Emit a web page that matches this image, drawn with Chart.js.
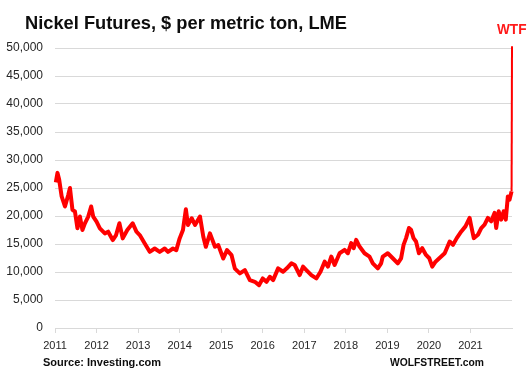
<!DOCTYPE html>
<html>
<head>
<meta charset="utf-8">
<script src="https://cdn.jsdelivr.net/npm/chart.js@4.4.1/dist/chart.umd.min.js"></script>
<style>
html,body{margin:0;padding:0;background:#fff;}
#wrap{position:relative;width:527px;height:379px;}
</style>
</head>
<body>
<div id="wrap"><canvas id="c" width="527" height="379"></canvas></div>
<script>
// ---- data ----
const years = [2011,2012,2013,2014,2015,2016,2017,2018,2019,2020,2021];
const yTicks = [0,5000,10000,15000,20000,25000,30000,35000,40000,45000,50000];
const dates = [
2011.02,2011.06,2011.10,2011.16,2011.24,2011.32,2011.36,2011.42,2011.48,2011.54,2011.60,2011.66,2011.72,2011.80,2011.87,2011.92,
2012.00,2012.08,2012.20,2012.28,2012.39,2012.47,2012.55,2012.63,2012.74,2012.87,2012.96,
2013.04,2013.16,2013.28,2013.40,2013.52,2013.64,2013.72,2013.84,2013.92,
2014.00,2014.08,2014.15,2014.20,2014.29,2014.37,2014.49,2014.57,2014.63,2014.73,2014.85,2014.93,
2015.05,2015.14,2015.25,2015.33,2015.45,2015.57,2015.69,2015.81,2015.91,
2016.00,2016.09,2016.17,2016.25,2016.37,2016.49,2016.58,2016.69,2016.77,2016.89,2016.97,
2017.05,2017.17,2017.29,2017.39,2017.49,2017.57,2017.65,2017.73,2017.85,2017.97,
2018.05,2018.13,2018.19,2018.25,2018.33,2018.45,2018.57,2018.65,2018.77,2018.85,2018.89,
2019.01,2019.13,2019.25,2019.33,2019.39,2019.45,2019.52,2019.57,2019.63,2019.69,2019.76,2019.84,2019.93,
2020.01,2020.08,2020.16,2020.25,2020.38,2020.50,2020.58,2020.67,2020.78,2020.88,2020.98,
2021.02,2021.08,2021.18,2021.26,2021.34,2021.42,2021.50,2021.58,2021.62,2021.68,2021.74,2021.80,2021.85,2021.90,2021.94,2021.99,
2022.00
];
const prices = [
26000,27700,26500,23500,21700,23800,25000,21100,20800,17800,19900,17500,18700,19900,21700,19900,
19000,17800,16900,17200,15700,16600,18700,16000,17500,18700,17200,
16600,15100,13600,14200,13600,14200,13600,14200,13900,
16000,17500,21200,18400,19600,18400,19900,16300,14500,16900,14500,14800,
12400,13900,13000,10600,9750,10350,8550,8250,7650,
8850,8250,9150,8550,10650,10050,10650,11550,11250,9450,10950,
10350,9450,8850,10050,11850,10950,12750,11250,13350,13950,
13350,15150,14250,15750,14550,13350,12750,11550,10650,11550,12750,
13350,12450,11550,12450,14850,16050,17850,17550,16050,15450,13350,14250,13050,
12450,10950,11850,12450,13350,15450,14850,16050,17250,18150,19650,
18150,16050,16650,17850,18450,19650,19050,20550,17850,20850,19350,20850,19350,23500,22900,24400,
50300
];
const titleText = "Nickel Futures, $ per metric ton, LME";
const sourceText = "Source: Investing.com";
const brandText = "WOLFSTREET.com";
const noteText = "WTF";

// ---- texts drawn on canvas ----
function fitText(ctx, text, x, y, font, color, targetW){
  ctx.save();
  ctx.font = font;
  ctx.fillStyle = color;
  ctx.textBaseline = 'alphabetic';
  ctx.textAlign = 'left';
  const w = ctx.measureText(text).width;
  const s = targetW ? targetW / w : 1;
  ctx.translate(x, y);
  ctx.scale(s, 1);
  ctx.fillText(text, 0, 0);
  ctx.restore();
}
const textPlugin = {
  id: 'texts',
  afterDraw(chart){
    const ctx = chart.ctx;
    fitText(ctx, titleText, 25, 28.5, 'bold 18px "Liberation Sans"', '#0d0d0d', 322);
    fitText(ctx, sourceText, 43, 366, 'bold 11px "Liberation Sans"', '#0d0d0d', 118);
    fitText(ctx, brandText, 390, 366, 'bold 11px "Liberation Sans"', '#0d0d0d', 94);
    fitText(ctx, noteText, 497, 33.5, 'bold 15px "Liberation Sans"', '#ff1a1a', 29.5);
  }
};

const points = dates.map((d,i)=>({x:d, y:prices[i]}));
const lastIdx = points.length - 1;

new Chart(document.getElementById('c'), {
  type: 'line',
  data: {
    datasets: [{
      data: points,
      borderColor: '#ff0000',
      borderWidth: 4,
      pointRadius: 0,
      tension: 0,
      clip: false,
      borderJoinStyle: 'round',
      segment: {
        borderWidth: ctx => ctx.p1DataIndex === lastIdx ? 2 : 4
      }
    }]
  },
  options: {
    responsive: false,
    animation: false,
    events: [],
    layout: { padding: { top: 48, right: 15, left: 0, bottom: 0 } },
    plugins: { legend: { display: false }, tooltip: { enabled: false }, title: { display: false } },
    scales: {
      x: {
        type: 'linear',
        min: 2011,
        max: 2022,
        afterBuildTicks: s => { s.ticks = years.map(v => ({ value: v })); },
        afterFit: s => { s.height = 51; },
        ticks: {
          autoSkip: false, maxRotation: 0,
          callback: v => String(v),
          font: { family: 'Liberation Sans', size: 11 },
          color: '#262626',
          padding: 6
        },
        grid: { drawOnChartArea: false, drawTicks: true, tickLength: 5, color: '#d9d9d9' },
        border: { color: '#d9d9d9' }
      },
      y: {
        min: 0,
        max: 50000,
        afterBuildTicks: s => { s.ticks = yTicks.map(v => ({ value: v })); },
        afterFit: s => { s.width = 55; },
        ticks: {
          callback: v => v.toLocaleString('en-US'),
          font: { family: 'Liberation Sans', size: 12 },
          color: '#262626',
          padding: 12
        },
        grid: { color: '#d9d9d9', drawTicks: false },
        border: { display: false }
      }
    }
  },
  plugins: [textPlugin]
});
</script>
</body>
</html>
